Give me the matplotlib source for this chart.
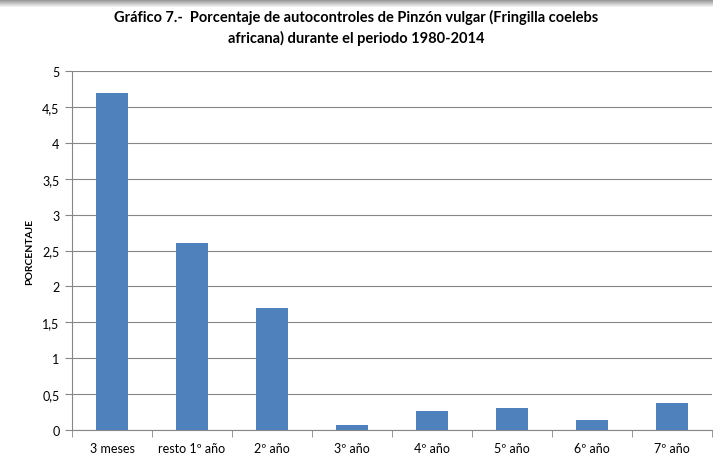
import matplotlib.pyplot as plt
from matplotlib.patches import Rectangle
import numpy as np

categorias = ["3 meses", "resto 1º año", "2º año", "3º año", "4º año", "5º año", "6º año", "7º año"]
porcentaje = [4.7, 2.6, 1.7, 0.07, 0.26, 0.31, 0.14, 0.38]
yticks = [0, 0.5, 1, 1.5, 2, 2.5, 3, 3.5, 4, 4.5, 5]
ytick_labels = ["0", "0,5", "1", "1,5", "2", "2,5", "3", "3,5", "4", "4,5", "5"]

plt.rcParams['font.family'] = ['Lato', 'DejaVu Sans']

fig = plt.figure(figsize=(7.13, 4.56), dpi=100)
ax = fig.add_axes([72 / 713, 25 / 456, 640 / 713, 359 / 456])

# sombra gris arriba
for i in range(9):
    g = 0.55 + 0.45 * i / 8
    fig.add_artist(Rectangle((0, 1 - (i + 1) / 456), 1, 1.2 / 456, transform=fig.transFigure,
                             facecolor=(g, g, g), edgecolor='none', zorder=5))

x = np.arange(len(categorias))
ax.bar(x, porcentaje, width=0.4, color='#4f81bd', zorder=3)

ax.set_xlim(-0.5, len(categorias) - 0.5)
ax.set_ylim(0, 5)
ax.set_yticks(yticks)
ax.set_yticklabels(ytick_labels, fontsize=9)
ax.set_xticks(x)
ax.set_xticklabels(categorias, fontsize=9)
ax.set_xticks(np.arange(-0.5, len(categorias)), minor=True)
ax.tick_params(axis='x', which='major', length=0, pad=9)
ax.tick_params(axis='x', which='minor', length=5, color='#868686', direction='out')
ax.tick_params(axis='y', length=5, color='#868686', direction='out', pad=4)
ax.grid(axis='y', color='#868686', linewidth=0.8, zorder=0)

for s in ['top', 'right']:
    ax.spines[s].set_visible(False)
ax.spines['left'].set_color('#868686')
ax.spines['bottom'].set_color('#868686')

ax.set_ylabel("PORCENTAJE", fontsize=7.5, fontweight='bold', labelpad=6)

fig.text(0.5, 1 - 28 / 456, "Gráfico 7.-  Porcentaje de autocontroles de Pinzón vulgar (Fringilla coelebs\nafricana) durante el periodo 1980-2014",
         ha='center', va='center', fontsize=10.5, fontweight='bold', linespacing=1.5)

fig.savefig("out.png", dpi=100)
